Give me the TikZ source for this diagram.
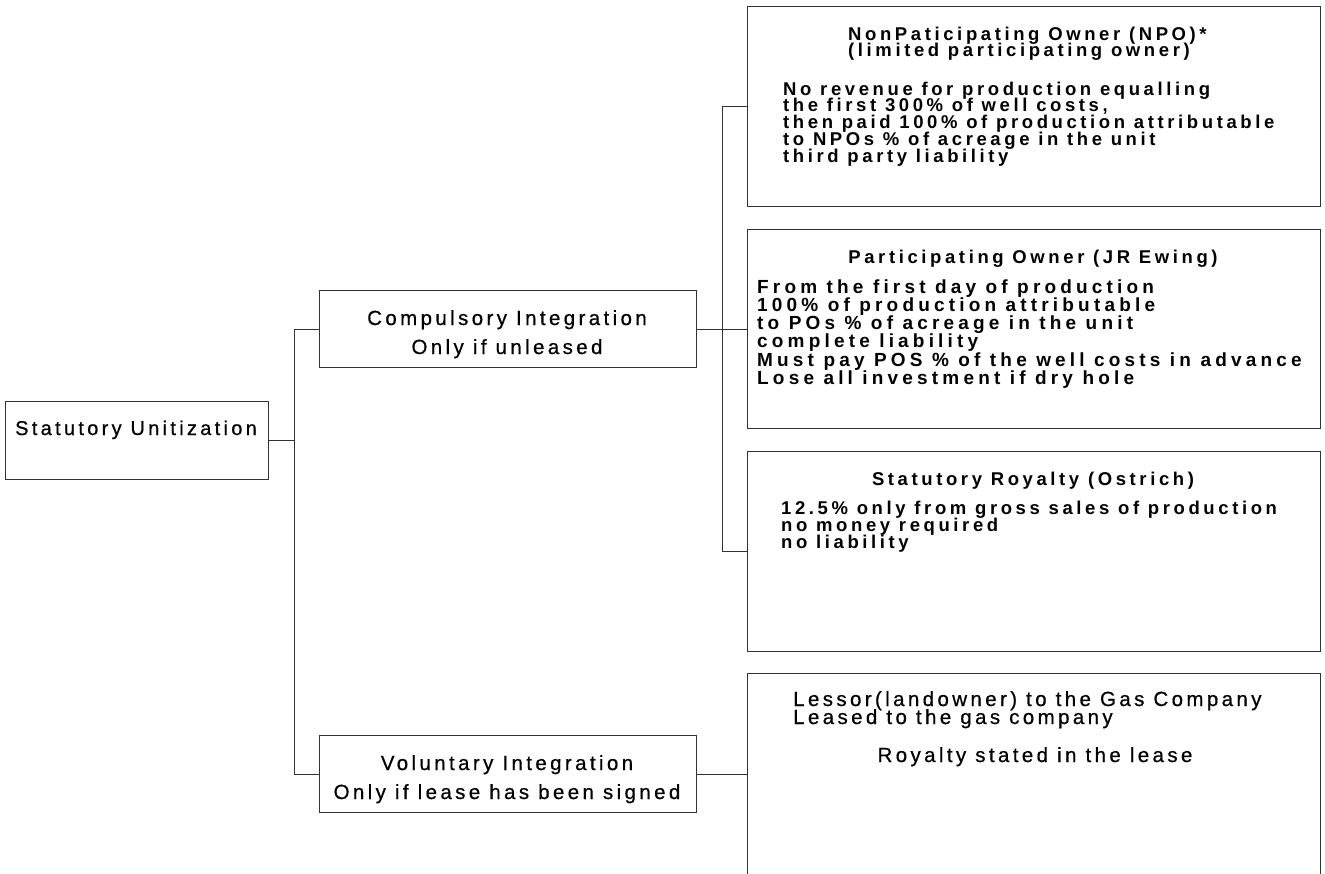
\documentclass[tikz,border=0pt]{standalone}
\usepackage{fontspec}
\setmainfont{Liberation Sans}
\newfontfamily\rtf[LetterSpace=19.5]{Liberation Sans}
\newfontfamily\rtfw[LetterSpace=22]{Liberation Sans}
\newfontfamily\ltf[LetterSpace=16.5,FakeBold=0.6]{Liberation Sans}
\newcommand\fstrut{\rule{0pt}{15pt}}
\begin{document}
\lineskiplimit=-50pt
\lineskip=0pt
\begin{tikzpicture}[x=1pt,y=-1pt,
  box/.style={draw=black!80, line width=1pt, anchor=north west, inner sep=0pt, rectangle},
  conn/.style={draw=black!80, line width=1pt},
  lt/.style={inner sep=0pt, font=\ltf\fontsize{20.5}{20.5}\selectfont},
  bt/.style={inner sep=0pt, align=left, anchor=north west,
    font=\rtf\bfseries\fontsize{18.5}{#1}\selectfont},
  btw/.style={inner sep=0pt, align=left, anchor=north west,
    font=\rtfw\bfseries\fontsize{19}{#1}\selectfont},
  btc/.style={inner sep=0pt, anchor=base, font=\rtf\bfseries\fontsize{18.5}{18.5}\selectfont}
]
\useasboundingbox (0,0) rectangle (1325,873);
\fill[white] (0,0) rectangle (1325,873);
% boxes
\node[box, minimum width=263, minimum height=78] (su) at (5,401) {};
\node[box, minimum width=377, minimum height=77] (ci) at (319,290) {};
\node[box, minimum width=377, minimum height=77] (vi) at (319,735) {};
\node[box, minimum width=573, minimum height=200] (npo) at (747,6) {};
\node[box, minimum width=573, minimum height=199] (po) at (747,229) {};
\node[box, minimum width=573, minimum height=200] (sr) at (747,451) {};
\node[box, minimum width=573, minimum height=260] (les) at (747,673) {};
% connectors
\coordinate (ja) at (294,0);
\coordinate (jb) at (722,0);
\draw[conn] (su.east) -- (su.east -| ja);
\draw[conn] (ci.west) -- (ci.west -| ja) -- (vi.west -| ja) -- (vi.west);
\draw[conn] (ci.east) -- (po.west);
\draw[conn] (npo.west) -- (npo.west -| jb) -- (sr.west -| jb) -- (sr.west);
\draw[conn] (vi.east) -- (vi.east -| les.west);
% left texts
\node[lt, anchor=base west, font=\ltf\fontsize{20}{20}\selectfont] (sut) at (15,435) {Statutory Unitization};
\node[lt, anchor=base] (cia) at (507,325) {Compulsory Integration};
\node[lt, anchor=base] (cib) at (507,354) {Only if unleased};
\node[lt, anchor=base] (via) at (507,770) {Voluntary Integration};
\node[lt, anchor=base] (vib) at (507,799) {Only if lease has been signed};
% NPO
\node[bt=16] (npot) at (848,25) {\fstrut NonPaticipating Owner (NPO)*\\(limited participating owner)};
\node[bt=16.75] (npob) at (783,80) {\fstrut No revenue for production equalling\\the first 300\% of well costs,\\then paid 100\% of production attributable\\to NPOs \% of acreage in the unit\\third party liability};
% PO
\node[btc] (pot) at (1033,263) {Participating Owner (JR Ewing)};
\node[btw=18.2] (pob) at (757,278) {\fstrut From the first day of production\\100\% of production attributable\\to POs \% of acreage in the unit\\complete liability\\Must pay POS \% of the well costs in advance\\Lose all investment if dry hole};
% SR
\node[btc] (srt) at (1033,485) {Statutory Royalty (Ostrich)};
\node[bt=17] (srb) at (781,499) {\fstrut 12.5\% only from gross sales of production\\no money required\\no liability};
% Lessor
\node[lt, anchor=base west] (lea) at (793,706) {Lessor(landowner) to the Gas Company};
\node[lt, anchor=base west] (leb) at (793,724) {Leased to the gas company};
\node[lt, anchor=base] (lec) at (1035,762) {Royalty stated in the lease};
\end{tikzpicture}
\end{document}
